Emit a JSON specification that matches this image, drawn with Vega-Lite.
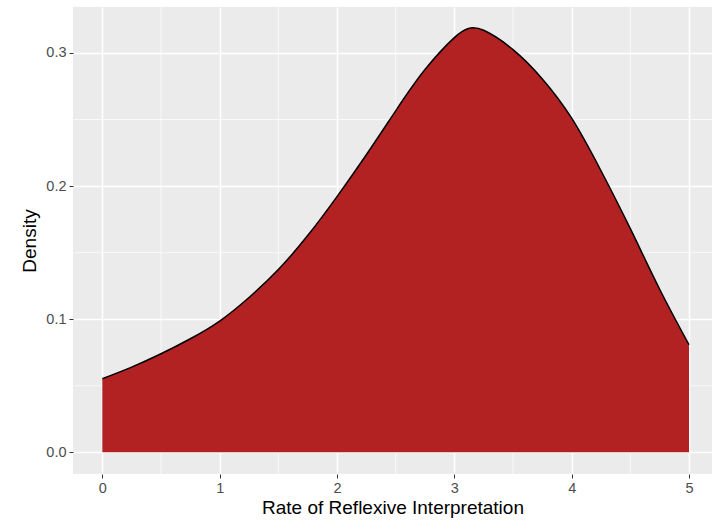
{
  "$schema": "https://vega.github.io/schema/vega-lite/v6.json",
  "width": 639,
  "height": 467,
  "autosize": {"type": "none"},
  "padding": {"left": 73, "top": 7, "right": 0, "bottom": 55},
  "background": "white",
  "config": {
    "view": {"fill": "#EBEBEB", "stroke": null},
    "font": "Liberation Sans",
    "axis": {
      "domain": false,
      "grid": true,
      "gridColor": "white",
      "gridWidth": 1.5,
      "tickColor": "#333333",
      "tickSize": 4,
      "tickWidth": 1,
      "labelColor": "#4D4D4D",
      "labelFontSize": 14.5,
      "labelFont": "Liberation Sans",
      "titleFont": "Liberation Sans",
      "titleFontSize": 19,
      "titleFontWeight": "normal",
      "titleColor": "black"
    }
  },
  "datasets": {
    "density": [
      {"rate": 0.0, "density": 0.0553},
      {"rate": 0.25, "density": 0.064},
      {"rate": 0.5, "density": 0.074},
      {"rate": 0.75, "density": 0.0853},
      {"rate": 1.0, "density": 0.0986},
      {"rate": 1.25, "density": 0.1163},
      {"rate": 1.5, "density": 0.1373},
      {"rate": 1.75, "density": 0.1628},
      {"rate": 2.0, "density": 0.1921},
      {"rate": 2.25, "density": 0.2235},
      {"rate": 2.5, "density": 0.2565},
      {"rate": 2.75, "density": 0.2875},
      {"rate": 3.0, "density": 0.3115},
      {"rate": 3.12, "density": 0.3184},
      {"rate": 3.25, "density": 0.317},
      {"rate": 3.5, "density": 0.3025},
      {"rate": 3.75, "density": 0.2805},
      {"rate": 4.0, "density": 0.251},
      {"rate": 4.25, "density": 0.2115},
      {"rate": 4.5, "density": 0.168},
      {"rate": 4.75, "density": 0.1225},
      {"rate": 5.0, "density": 0.0808}
    ],
    "xminor": [{"v": 0.5}, {"v": 1.5}, {"v": 2.5}, {"v": 3.5}, {"v": 4.5}],
    "yminor": [{"v": 0.05}, {"v": 0.15}, {"v": 0.25}]
  },
  "layer": [
    {
      "data": {"name": "xminor"},
      "mark": {"type": "rule", "color": "white", "strokeWidth": 0.7},
      "encoding": {
        "x": {
          "field": "v", "type": "quantitative",
          "scale": {"domain": [-0.25, 5.196], "nice": false, "zero": false},
          "axis": {"title": "Rate of Reflexive Interpretation", "values": [0, 1, 2, 3, 4, 5], "format": "d", "labelPadding": 3, "titlePadding": 4}
        }
      }
    },
    {
      "data": {"name": "yminor"},
      "mark": {"type": "rule", "color": "white", "strokeWidth": 0.7},
      "encoding": {
        "y": {
          "field": "v", "type": "quantitative",
          "scale": {"domain": [-0.0163, 0.3345], "nice": false, "zero": false},
          "axis": {"title": "Density", "values": [0, 0.1, 0.2, 0.3], "format": ".1f", "labelPadding": 3, "titlePadding": 6}
        }
      }
    },
    {
      "data": {"name": "density"},
      "mark": {
        "type": "area",
        "color": "#B22222",
        "opacity": 1,
        "fillOpacity": 1,
        "interpolate": "natural",
        "line": {"color": "black", "strokeWidth": 1.5}
      },
      "encoding": {
        "x": {
          "field": "rate",
          "type": "quantitative",
          "scale": {"domain": [-0.25, 5.196], "nice": false, "zero": false},
          "axis": {"title": "Rate of Reflexive Interpretation", "values": [0, 1, 2, 3, 4, 5], "format": "d", "labelPadding": 3, "titlePadding": 4}
        },
        "y": {
          "field": "density",
          "type": "quantitative",
          "scale": {"domain": [-0.0163, 0.3345], "nice": false, "zero": false},
          "axis": {"title": "Density", "values": [0, 0.1, 0.2, 0.3], "format": ".1f", "labelPadding": 3, "titlePadding": 6}
        }
      }
    }
  ]
}
